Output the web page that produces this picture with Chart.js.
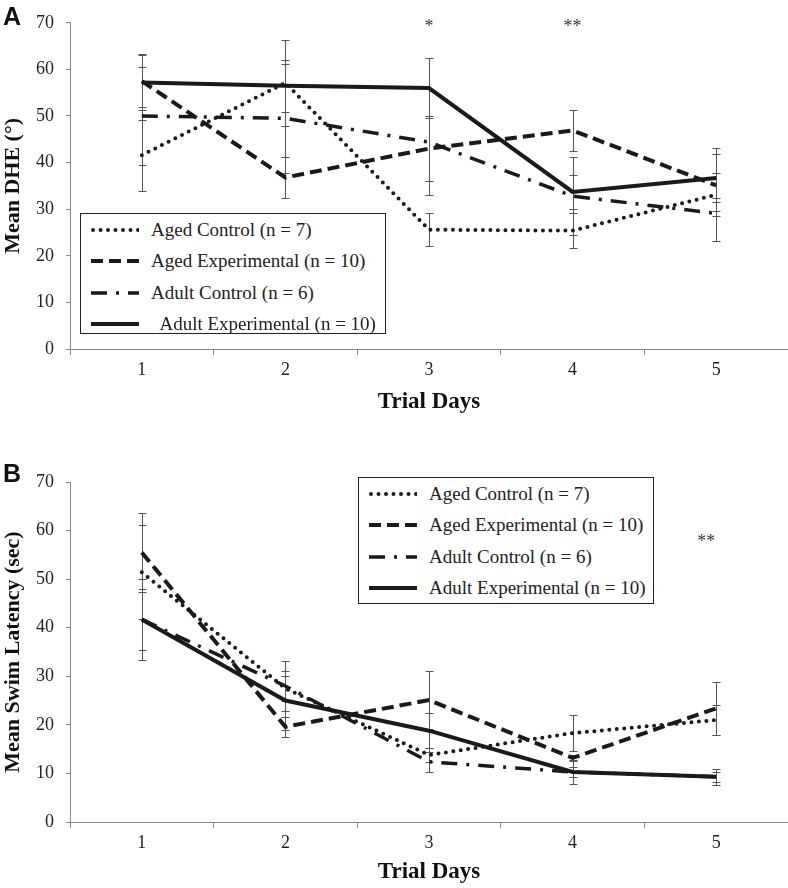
<!DOCTYPE html>
<html>
<head>
<meta charset="utf-8">
<script src="https://cdn.jsdelivr.net/npm/chart.js@4.4.1/dist/chart.umd.min.js"></script>
<style>
  body { margin: 0; background: #fff; }
  #wrap { position: relative; width: 788px; height: 888px; overflow: hidden; background: #fff; }
  .panel { position: absolute; left: 0; }
  .letter { position: absolute; left: 3px; font: bold 25px 'Liberation Sans', Arial, sans-serif; line-height: 1; color: #111; }
  .legend { position: absolute; border: 1px solid #222; background: #fff; box-sizing: border-box;
            font: 19px 'Liberation Serif', 'Times New Roman', serif; color: #222; }
  .legend .row { height: 31.5px; display: flex; align-items: center; white-space: pre; }
  .legend svg { margin-left: 10px; margin-right: 12px; flex: none; }
</style>
</head>
<body>
<div id="wrap">
  <canvas id="chart-a" class="panel" width="788" height="444" style="top:0"></canvas>
  <canvas id="chart-b" class="panel" width="788" height="444" style="top:444px"></canvas>
  <div class="letter" style="top:4px">A</div>
  <div class="letter" style="top:461px">B</div>
  <div id="legend-a" class="legend" style="left:80px; top:213px; width:306px; height:121px"></div>
  <div id="legend-b" class="legend" style="left:358px; top:477px; width:296px; height:127px"></div>
</div>
<script>
// Trial days on the x axis
const days = ['1', '2', '3', '4', '5'];

// Legend labels (panel A has an extra space before the last one)
const namesA = ['Aged Control (n = 7)', 'Aged Experimental (n = 10)', 'Adult Control (n = 6)', '  Adult Experimental (n = 10)'];
const namesB = ['Aged Control (n = 7)', 'Aged Experimental (n = 10)', 'Adult Control (n = 6)', 'Adult Experimental (n = 10)'];

// Panel A - Mean DHE (deg), with error bar half-widths
const dheAgedCtrl = [41.6, 57.1, 25.6, 25.4, 33.1];
const dheAgedCtrlErr = [7.6, 9.3, 3.5, 3.7, 10.0];
const dheAgedExp = [57.5, 36.8, 43.0, 46.9, 35.1];
const dheAgedExpErr = [5.5, 4.3, 7.0, 4.4, 2.6];
const dheAdultCtrl = [50.0, 49.5, 44.4, 32.8, 29.1];
const dheAdultCtrlErr = [10.5, 11.7, 11.3, 8.3, 0.6];
const dheAdultExp = [57.2, 56.5, 56.0, 33.7, 36.7];
const dheAdultExpErr = [6.0, 5.6, 6.4, 3.7, 5.1];

// Panel B - Mean swim latency (sec)
const latAgedCtrl = [51.4, 27.5, 13.8, 18.3, 21.0];
const latAgedCtrlErr = [9.7, 2.6, 1.5, 3.7, 3.1];
const latAgedExp = [55.5, 19.6, 25.1, 13.2, 23.4];
const latAgedExpErr = [8.2, 2.0, 5.9, 0.6, 5.4];
const latAdultCtrl = [41.7, 28.0, 12.4, 10.3, 9.3];
const latAdultCtrlErr = [6.2, 5.1, 2.1, 1.0, 1.0];
const latAdultExp = [41.7, 25.0, 18.8, 10.3, 9.3];
const latAdultExpErr = [8.4, 6.0, 3.6, 2.5, 1.6];

// significance marks: [day index, value, text]
const marksA = [[2, 69.8, '*'], [3, 69.8, '**']];
const marksB = [[4, 58.4, '**']];

const serif = "'Liberation Serif', 'Times New Roman', serif";
const ink = '#1a1a1a';
const axisGray = '#8a8a8a';

const lineStyles = [
    { dash: [0, 7.5], cap: 'round', width: 4 },
    { dash: [12, 6], cap: 'butt', width: 4 },
    { dash: [16, 9, 3, 9], cap: 'butt', width: 3.5 },
    { dash: [], cap: 'butt', width: 4 }
];

const errorBars = {
    id: 'errorBars',
    beforeDatasetsDraw(chart) {
        const { ctx, scales: { x, y } } = chart;
        ctx.save();
        ctx.strokeStyle = '#555';
        ctx.lineWidth = 1;
        chart.data.datasets.forEach(ds => {
            ds.err.forEach((e, i) => {
                const px = Math.round(x.getPixelForValue(i)) + 0.5;
                const top = Math.round(y.getPixelForValue(ds.data[i] + e)) + 0.5;
                const bot = Math.round(y.getPixelForValue(ds.data[i] - e)) + 0.5;
                ctx.beginPath();
                ctx.moveTo(px, top); ctx.lineTo(px, bot);
                ctx.moveTo(px - 4, top); ctx.lineTo(px + 4, top);
                ctx.moveTo(px - 4, bot); ctx.lineTo(px + 4, bot);
                ctx.stroke();
            });
        });
        ctx.restore();
    }
};

const sigMarks = {
    id: 'sigMarks',
    afterDatasetsDraw(chart, args, opts) {
        const { ctx, scales: { x, y } } = chart;
        ctx.save();
        ctx.fillStyle = '#333';
        ctx.font = '18px ' + serif;
        ctx.textAlign = 'center';
        ctx.textBaseline = 'middle';
        (opts.marks || []).forEach(([idx, val, txt]) => {
            ctx.fillText(txt, x.getPixelForValue(idx) + (opts.dx || 0), y.getPixelForValue(val) + 4);
        });
        ctx.restore();
    }
};

function makeDatasets(series, errs) {
    return series.map((data, i) => ({
        data: data,
        err: errs[i],
        borderColor: ink,
        borderWidth: lineStyles[i].width,
        borderDash: lineStyles[i].dash,
        borderCapStyle: lineStyles[i].cap,
        fill: false,
        tension: 0,
        pointRadius: 0,
        clip: false
    }));
}

function makeChart(id, datasets, yTitle, padTop, xHeight, xTitlePad, marks, marksDx) {
    return new Chart(document.getElementById(id), {
        type: 'line',
        data: { labels: days, datasets: datasets },
        plugins: [errorBars, sigMarks],
        options: {
            responsive: false,
            animation: false,
            layout: { padding: { top: padTop, left: 0, right: 0, bottom: 0 } },
            plugins: {
                legend: { display: false },
                tooltip: { enabled: false },
                sigMarks: { marks: marks, dx: marksDx }
            },
            scales: {
                x: {
                    offset: true,
                    grid: { offset: true, drawOnChartArea: false, tickLength: 6, color: axisGray },
                    border: { color: axisGray },
                    ticks: { padding: 4, color: '#222', font: { family: serif, size: 18 } },
                    title: { display: true, text: 'Trial Days', color: '#111',
                             font: { family: serif, size: 23, weight: 'bold' },
                             padding: { top: 0, bottom: xTitlePad } },
                    afterFit(s) { s.height = xHeight; }
                },
                y: {
                    min: 0,
                    max: 70,
                    grid: { drawOnChartArea: false, tickLength: 4, color: axisGray },
                    border: { color: axisGray },
                    ticks: { stepSize: 10, padding: 12, color: '#222', font: { family: serif, size: 18 } },
                    title: { display: true, text: yTitle, color: '#111',
                             font: { family: serif, size: 22, weight: 'bold' },
                             padding: { top: 0, bottom: 0 } },
                    afterFit(s) { s.width = 70; }
                }
            }
        }
    });
}

function buildLegend(id, names) {
    const box = document.getElementById(id);
    names.forEach((name, i) => {
        const st = lineStyles[i];
        const row = document.createElement('div');
        row.className = 'row';
        row.innerHTML = '<svg width="48" height="10"><line x1="' + (st.cap === 'round' ? 2 : 0) + '" y1="5" x2="48" y2="5" stroke="' + ink +
            '" stroke-width="' + st.width + '" stroke-linecap="' + st.cap + '" stroke-dasharray="' +
            (st.dash.length ? st.dash.join(' ') : 'none') + '"/></svg>';
        const label = document.createElement('span');
        label.textContent = name;
        row.appendChild(label);
        box.appendChild(row);
    });
}

makeChart('chart-a',
    makeDatasets([dheAgedCtrl, dheAgedExp, dheAdultCtrl, dheAdultExp],
                 [dheAgedCtrlErr, dheAgedExpErr, dheAdultCtrlErr, dheAdultExpErr]),
    'Mean DHE (°)', 18, 95, 28, marksA, 0);

makeChart('chart-b',
    makeDatasets([latAgedCtrl, latAgedExp, latAdultCtrl, latAdultExp],
                 [latAgedCtrlErr, latAgedExpErr, latAdultCtrlErr, latAdultExpErr]),
    'Mean Swim Latency (sec)', 38, 66, 2, marksB, -10);

buildLegend('legend-a', namesA);
buildLegend('legend-b', namesB);
</script>
</body>
</html>
